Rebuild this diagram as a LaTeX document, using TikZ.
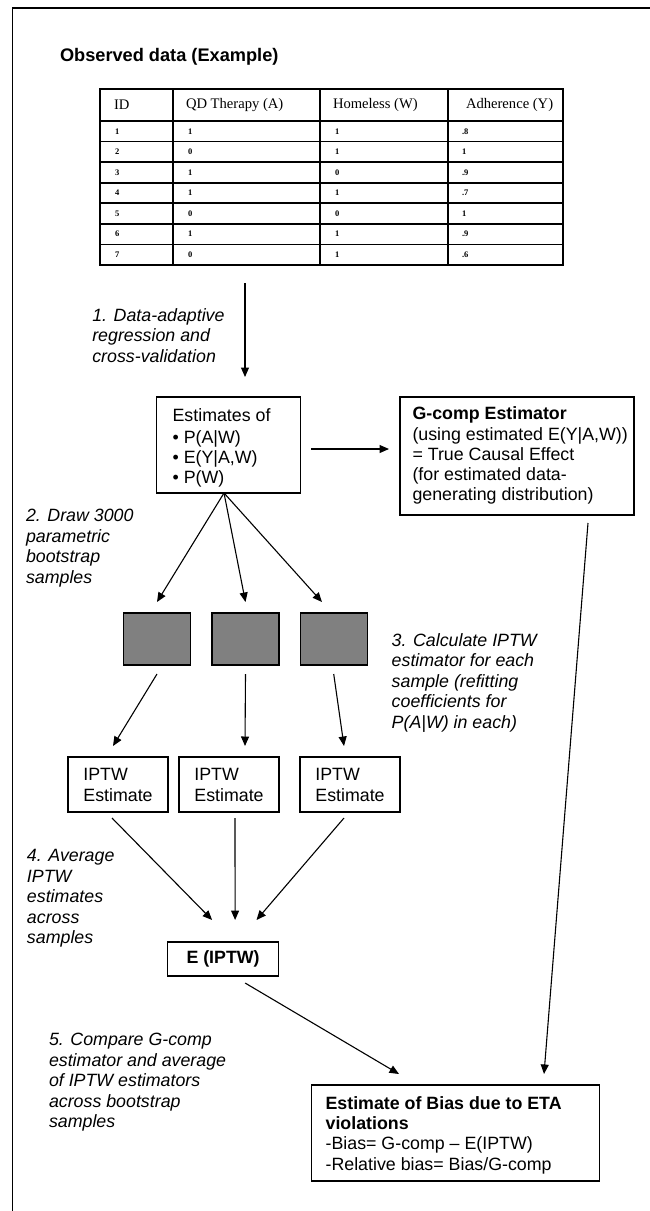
\documentclass[tikz,border=0pt]{standalone}
\usepackage{fontspec}
\setmainfont{Liberation Sans}
\newfontfamily\cellserif{Liberation Serif}
\usetikzlibrary{arrows.meta}
\definecolor{samplegray}{HTML}{808080}
\begin{document}
\begin{tikzpicture}[x=1pt,y=-1pt,
  every node/.style={inner sep=0pt, outer sep=0pt},
  boxed/.style={draw, line width=1.1pt, rectangle},
  boxtext/.style={anchor=north west, align=left, font=\fontsize{17.8}{20.2}\selectfont},
  note/.style={anchor=north west, align=left, font=\fontsize{17.8}{20.5}\selectfont\itshape},
  arr/.style={line width=1.1pt, -{Triangle[length=9.5pt,width=8pt]}},
  tabrule/.style={line width=1.8pt},
  hdr/.style={anchor=west, font=\cellserif\fontsize{14.6}{16}\selectfont},
  cell/.style={anchor=west, font=\cellserif\bfseries\fontsize{8.5}{9}\selectfont},
  sample/.style={draw, line width=1.1pt, fill=samplegray, minimum width=67pt, minimum height=52pt},
  iptw/.style={boxed, minimum width=100pt, minimum height=55pt, align=left, font=\fontsize{17.8}{21}\selectfont},
]
\useasboundingbox (0,0) rectangle (650,1211);

% page frame (open on the right and at the bottom)
\draw[line width=1.3pt] (12.5,1211) -- (12.5,8) -- (650,8);

% heading
\node[anchor=west, font=\bfseries\fontsize{18.2}{21}\selectfont] (title) at (60,56.5) {Observed data (Example)};

% data table
\draw[tabrule] (100,89) rectangle (563,265);
\foreach \x in {173,320,448} \draw[tabrule] (\x,89) -- (\x,265);
\foreach \k in {0,...,6} \draw[tabrule] (100,{121+\k*144/7}) -- (563,{121+\k*144/7});
\node[hdr] (h-id) at (114,105) {ID};
\node[hdr] (h-a) at (186,105) {QD Therapy (A)};
\node[hdr] (h-w) at (333,105) {Homeless (W)};
\node[hdr] (h-y) at (466,105) {Adherence (Y)};
\foreach \vid/\va/\vw/\vy [count=\k from 0] in {1/1/1/.8,2/0/1/1,3/1/0/.9,4/1/1/.7,5/0/0/1,6/1/1/.9,7/0/1/.6} {
  \pgfmathsetmacro\yc{121+(\k+0.5)*144/7}
  \node[cell] (r\vid-id) at (115,\yc) {\vid};
  \node[cell] (r\vid-a) at (188,\yc) {\va};
  \node[cell] (r\vid-w) at (335,\yc) {\vw};
  \node[cell] (r\vid-y) at (462,\yc) {\vy};
}

% estimation boxes
\node[boxed, minimum width=143.4pt, minimum height=96pt] (est) at (228.5,445) {};
\node[boxtext] (est-t) at ([xshift=15.8pt,yshift=-11.5pt]est.north west)
  {Estimates of\\[1.5pt]• P(A|W)\\• E(Y|A,W)\\• P(W)};
\node[boxed, minimum width=234pt, minimum height=118pt] (gcomp) at (517,456) {};
\node[boxtext] (gcomp-t) at ([xshift=12.5pt,yshift=-10pt]gcomp.north west)
  {\textbf{G-comp Estimator}\\(using estimated E(Y|A,W))\\= True Causal Effect\\(for estimated data-\\generating distribution)};

% bootstrap samples
\node[sample] (sq1) at (157,639) {};
\node[sample] (sq2) at (245.5,639) {};
\node[sample] (sq3) at (333.7,639) {};

% IPTW estimates
\node[iptw] (ip1) at (118,784.5) {IPTW\\Estimate};
\node[iptw] (ip2) at (229,784.5) {IPTW\\Estimate};
\node[iptw] (ip3) at (350,784.5) {IPTW\\Estimate};

\node[boxed, minimum width=111pt, minimum height=34pt, font=\bfseries\fontsize{17.8}{20.5}\selectfont] (eip) at (223.1,959) {E (IPTW)};

\node[boxed, minimum width=288.2pt, minimum height=96pt] (bias) at (455.5,1133) {};
\node[boxtext] (bias-t) at ([xshift=14.2pt,yshift=-11.5pt]bias.north west)
  {\textbf{Estimate of Bias due to ETA}\\\textbf{violations}\\-Bias= G-comp – E(IPTW)\\-Relative bias= Bias/G-comp};

% step notes
\node[note] (n1) at (92.3,308.5) {1. Data-adaptive\\regression and\\cross-validation};
\node[note] (n2) at (26,509.5) {2. Draw 3000\\parametric\\bootstrap\\samples};
\node[note] (n3) at (391.7,633.5) {3. Calculate IPTW\\estimator for each\\sample (refitting\\coefficients for\\P(A|W) in each)};
\node[note] (n4) at (27,849.5) {4. Average\\IPTW\\estimates\\across\\samples};
\node[note] (n5) at (49,1033.5) {5. Compare G-comp\\estimator and average\\of IPTW estimators\\across bootstrap\\samples};

% connectors
\coordinate (a1s) at (245,283);
\draw[arr, shorten >=20pt] (a1s) -- (a1s |- est.north);
\coordinate (e2gy) at (0,449);
\draw[arr, shorten <=10.8pt, shorten >=11pt] (est.east |- e2gy) -- (gcomp.west |- e2gy);

\coordinate (fan) at ([xshift=-4.5pt]est.south);
\draw[arr] (fan) -- ([yshift=11pt]sq1.north);
\draw[arr] (fan) -- ([yshift=11pt]sq2.north);
\draw[arr] (fan) -- ([xshift=-11.7pt,yshift=11pt]sq3.north);

\draw[arr] ([yshift=-9pt]sq1.south) -- ([xshift=-5pt,yshift=11pt]ip1.north);
\draw[arr] ([yshift=-9pt]sq2.south) -- ([xshift=16pt,yshift=11pt]ip2.north);
\draw[arr] ([yshift=-9pt]sq3.south) -- ([xshift=-6pt,yshift=11pt]ip3.north);

\draw[arr] ([xshift=-6pt,yshift=-6pt]ip1.south) -- ([xshift=-11pt,yshift=22pt]eip.north);
\draw[arr] ([xshift=6pt,yshift=-6pt]ip2.south) -- ([xshift=12pt,yshift=22pt]eip.north);
\draw[arr] ([xshift=-6pt,yshift=-6pt]ip3.south) -- ([xshift=33.4pt,yshift=22pt]eip.north);

\draw[arr] ([xshift=22pt,yshift=-7pt]eip.south) -- ([xshift=-56.5pt,yshift=11pt]bias.north);
\draw[arr] ([xshift=71pt,yshift=-8pt]gcomp.south) -- ([xshift=88.5pt,yshift=11pt]bias.north);
\end{tikzpicture}
\end{document}
